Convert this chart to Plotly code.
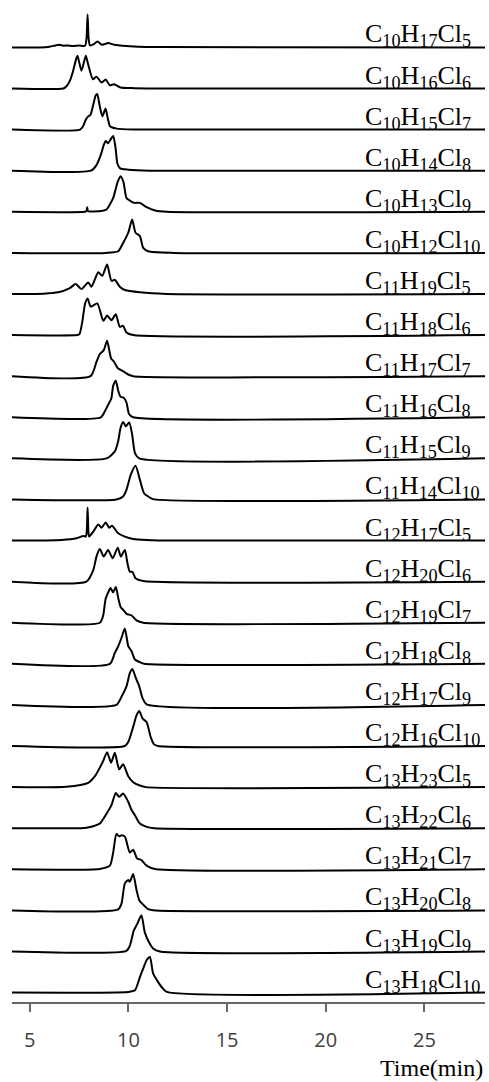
import plotly.graph_objects as go

formulas = [
    "C<sub>10</sub>H<sub>17</sub>Cl<sub>5</sub>",
    "C<sub>10</sub>H<sub>16</sub>Cl<sub>6</sub>",
    "C<sub>10</sub>H<sub>15</sub>Cl<sub>7</sub>",
    "C<sub>10</sub>H<sub>14</sub>Cl<sub>8</sub>",
    "C<sub>10</sub>H<sub>13</sub>Cl<sub>9</sub>",
    "C<sub>10</sub>H<sub>12</sub>Cl<sub>10</sub>",
    "C<sub>11</sub>H<sub>19</sub>Cl<sub>5</sub>",
    "C<sub>11</sub>H<sub>18</sub>Cl<sub>6</sub>",
    "C<sub>11</sub>H<sub>17</sub>Cl<sub>7</sub>",
    "C<sub>11</sub>H<sub>16</sub>Cl<sub>8</sub>",
    "C<sub>11</sub>H<sub>15</sub>Cl<sub>9</sub>",
    "C<sub>11</sub>H<sub>14</sub>Cl<sub>10</sub>",
    "C<sub>12</sub>H<sub>17</sub>Cl<sub>5</sub>",
    "C<sub>12</sub>H<sub>20</sub>Cl<sub>6</sub>",
    "C<sub>12</sub>H<sub>19</sub>Cl<sub>7</sub>",
    "C<sub>12</sub>H<sub>18</sub>Cl<sub>8</sub>",
    "C<sub>12</sub>H<sub>17</sub>Cl<sub>9</sub>",
    "C<sub>12</sub>H<sub>16</sub>Cl<sub>10</sub>",
    "C<sub>13</sub>H<sub>23</sub>Cl<sub>5</sub>",
    "C<sub>13</sub>H<sub>22</sub>Cl<sub>6</sub>",
    "C<sub>13</sub>H<sub>21</sub>Cl<sub>7</sub>",
    "C<sub>13</sub>H<sub>20</sub>Cl<sub>8</sub>",
    "C<sub>13</sub>H<sub>19</sub>Cl<sub>9</sub>",
    "C<sub>13</sub>H<sub>18</sub>Cl<sub>10</sub>",
]

# retention times (min) of points
rt_points = [
    [4.1, 5.5, 6.0, 6.3, 6.5, 6.7, 6.9, 7.2, 7.5, 7.8, 7.88, 7.93, 7.98, 8.05, 8.25, 8.43, 8.65, 8.8, 8.97, 9.3, 9.7, 10.5, 11.5, 28.07],
    [4.1, 6.7, 6.85, 7.03, 7.2, 7.35, 7.42, 7.62, 7.84, 7.95, 8.2, 8.38, 8.64, 8.85, 9.05, 9.28, 9.6, 10.3, 11.4, 28.07],
    [4.1, 7.55, 7.7, 7.84, 7.96, 8.08, 8.22, 8.34, 8.42, 8.55, 8.68, 8.84, 8.95, 9.07, 9.4, 10.26, 28.07],
    [4.1, 8.1, 8.38, 8.63, 8.75, 8.85, 8.97, 9.1, 9.23, 9.35, 9.44, 9.58, 10.0, 11.1, 28.07],
    [4.1, 7.8, 7.87, 7.91, 7.95, 8.1, 8.7, 8.89, 9.23, 9.45, 9.6, 9.75, 9.9, 10.07, 10.3, 10.58, 10.92, 11.35, 11.95, 28.07],
    [4.1, 8.85, 9.48, 9.73, 9.99, 10.19, 10.36, 10.58, 10.75, 11.0, 12.3, 28.07],
    [4.1, 5.7, 6.44, 7.03, 7.33, 7.62, 7.96, 8.13, 8.47, 8.67, 8.92, 9.14, 9.31, 9.56, 9.82, 10.58, 11.93, 28.07],
    [4.1, 7.4, 7.52, 7.67, 7.8, 7.93, 8.09, 8.42, 8.73, 8.92, 9.14, 9.36, 9.56, 9.73, 9.9, 10.24, 28.07],
    [4.1, 8.08, 8.38, 8.55, 8.75, 8.92, 9.12, 9.28, 9.48, 9.73, 9.99, 10.24, 28.07],
    [4.1, 8.6, 8.82, 8.99, 9.13, 9.23, 9.36, 9.48, 9.6, 9.75, 9.9, 10.03, 10.24, 28.07],
    [4.1, 8.89, 9.31, 9.48, 9.6, 9.73, 9.87, 10.04, 10.19, 10.33, 10.55, 28.07],
    [4.1, 9.39, 9.73, 9.9, 10.12, 10.36, 10.58, 10.79, 11.0, 11.25, 28.07],
    [4.1, 6.61, 7.37, 7.71, 7.84, 7.89, 7.93, 7.97, 8.01, 8.22, 8.47, 8.64, 8.85, 9.02, 9.17, 9.48, 9.82, 10.24, 10.92, 12.3, 28.07],
    [4.1, 7.87, 8.22, 8.38, 8.55, 8.75, 8.97, 9.2, 9.46, 9.61, 9.82, 9.95, 10.07, 10.2, 10.36, 10.75, 28.07],
    [4.1, 8.55, 8.72, 8.85, 9.1, 9.22, 9.36, 9.49, 9.61, 9.77, 9.9, 10.16, 10.41, 10.75, 28.07],
    [4.1, 9.06, 9.31, 9.48, 9.65, 9.82, 9.99, 10.16, 10.33, 10.58, 10.8, 28.07],
    [4.1, 9.39, 9.65, 9.9, 10.07, 10.2, 10.38, 10.55, 10.72, 10.92, 28.07],
    [4.1, 9.82, 9.99, 10.24, 10.41, 10.55, 10.72, 10.92, 11.13, 11.3, 11.5, 28.07],
    [4.1, 6.86, 7.96, 8.3, 8.55, 8.72, 8.92, 9.12, 9.31, 9.53, 9.73, 9.99, 10.24, 10.58, 10.9, 28.07],
    [4.1, 7.79, 8.22, 8.55, 8.89, 9.14, 9.36, 9.53, 9.73, 9.99, 10.16, 10.33, 10.58, 10.92, 11.3, 28.07],
    [4.1, 8.55, 9.06, 9.23, 9.39, 9.53, 9.65, 9.82, 10.07, 10.24, 10.44, 10.66, 10.92, 11.35, 28.07],
    [4.1, 9.48, 9.65, 9.82, 9.99, 10.07, 10.24, 10.41, 10.55, 10.72, 11.0, 11.4, 28.07],
    [4.1, 9.9, 10.07, 10.27, 10.44, 10.66, 10.83, 11.05, 11.25, 11.6, 28.07],
    [4.1, 9.99, 10.33, 10.58, 10.75, 10.92, 11.09, 11.25, 11.45, 11.68, 11.94, 28.07],
]

# relative intensities at those points
intensities = [
    [0, 0, 0.02, 0.06, 0.08, 0.05, 0.06, 0.04, 0.06, 0.05, 0.3, 1.0, 0.3, 0.06, 0.1, 0.18, 0.08, 0.1, 0.13, 0.08, 0.05, 0.02, 0.01, 0],
    [0, 0, 0.06, 0.23, 0.54, 0.89, 0.99, 0.54, 0.99, 0.75, 0.28, 0.36, 0.18, 0.27, 0.1, 0.13, 0.03, 0.01, 0, 0],
    [0, 0, 0.1, 0.3, 0.4, 0.45, 0.76, 1.03, 1.08, 0.7, 0.4, 0.64, 0.35, 0.1, 0.03, 0, 0],
    [0, 0, 0.17, 0.53, 0.78, 0.9, 0.83, 0.95, 1.05, 0.68, 0.22, 0.07, 0.03, 0, 0],
    [0, 0, 0.02, 0.14, 0.02, 0.01, 0.03, 0.07, 0.42, 0.9, 1.08, 0.9, 0.42, 0.34, 0.27, 0.27, 0.14, 0.04, 0, 0],
    [0, 0, 0.05, 0.3, 0.61, 1.01, 0.61, 0.51, 0.15, 0.05, 0, 0],
    [0, 0.01, 0.05, 0.18, 0.3, 0.15, 0.35, 0.22, 0.66, 0.55, 0.89, 0.4, 0.43, 0.22, 0.12, 0.05, 0, 0],
    [0, 0, 0.03, 0.43, 0.94, 1.11, 0.86, 0.96, 0.43, 0.59, 0.45, 0.63, 0.25, 0.28, 0.08, 0, 0],
    [0, 0, 0.43, 0.67, 0.79, 1.07, 0.54, 0.43, 0.23, 0.15, 0.05, 0, 0],
    [0, 0, 0.2, 0.4, 0.56, 0.96, 1.11, 0.81, 0.62, 0.6, 0.45, 0.1, 0, 0],
    [0, 0, 0.21, 0.52, 0.92, 1.1, 0.97, 1.09, 0.72, 0.16, 0, 0],
    [0, 0, 0.09, 0.29, 0.75, 1.02, 0.6, 0.19, 0.09, 0.01, 0],
    [0, 0.02, 0.07, 0.14, 0.12, 0.3, 1.0, 0.3, 0.12, 0.27, 0.49, 0.39, 0.55, 0.39, 0.45, 0.22, 0.12, 0.05, 0.02, 0, 0],
    [0, 0, 0.35, 0.76, 0.99, 0.76, 0.96, 0.71, 1.03, 0.76, 0.96, 0.56, 0.3, 0.3, 0.1, 0.02, 0],
    [0, 0, 0.22, 0.73, 1.05, 0.92, 1.08, 0.73, 0.47, 0.37, 0.27, 0.22, 0.07, 0, 0],
    [0, 0, 0.33, 0.53, 0.79, 1.07, 0.54, 0.38, 0.13, 0.05, 0, 0],
    [0, 0, 0.25, 0.56, 0.96, 1.09, 0.81, 0.56, 0.2, 0.02, 0],
    [0, 0, 0.12, 0.58, 0.93, 1.06, 0.83, 0.73, 0.27, 0.05, 0, 0],
    [0, 0.01, 0.13, 0.33, 0.59, 0.79, 1.06, 0.74, 1.04, 0.54, 0.69, 0.33, 0.15, 0.05, 0, 0],
    [0, 0.01, 0.06, 0.14, 0.44, 0.7, 1.07, 0.95, 1.05, 0.8, 0.55, 0.39, 0.14, 0.04, 0, 0],
    [0, 0.01, 0.11, 0.52, 1.07, 1.0, 1.03, 0.99, 0.51, 0.59, 0.33, 0.28, 0.11, 0.01, 0],
    [0, 0.03, 0.21, 0.82, 0.92, 0.87, 1.1, 0.62, 0.31, 0.19, 0.04, 0, 0],
    [0, 0.02, 0.17, 0.63, 0.83, 1.1, 0.58, 0.27, 0.09, 0, 0],
    [0, 0.02, 0.07, 0.47, 0.73, 0.98, 1.08, 0.58, 0.37, 0.17, 0.02, 0],
]

x_ticks = [5, 10, 15, 20, 25]
x_title = "Time(min)"

n = len(formulas)
step = 1.245

fig = go.Figure()
for i in range(n):
    off = (n - 1 - i) * step
    fig.add_trace(go.Scatter(
        x=rt_points[i],
        y=[v + off for v in intensities[i]],
        mode="lines",
        line=dict(color="black", width=2, shape="spline", smoothing=0.6),
        showlegend=False,
        hoverinfo="skip",
    ))
    fig.add_annotation(
        x=0.742, xref="paper", xanchor="left",
        y=off, yref="y", yanchor="bottom",
        text=formulas[i], showarrow=False,
        font=dict(family="Liberation Serif", size=26, color="black"),
        yshift=-6,
    )

fig.add_annotation(
    x=1.0, xref="paper", xanchor="right",
    y=-0.285, yref="y", yanchor="middle",
    text=x_title, showarrow=False,
    font=dict(family="Liberation Serif", size=24, color="black"),
    yshift=-66,
)

fig.update_layout(
    width=489, height=1082,
    margin=dict(l=12, r=4, t=5, b=80),
    plot_bgcolor="white", paper_bgcolor="white",
    xaxis=dict(
        range=[4.1, 28.07], tickvals=x_ticks, ticks="outside", ticklen=8,
        tickcolor="#666666", tickwidth=1.5, showline=True, linecolor="#666666",
        linewidth=1.5, showgrid=False, zeroline=False,
        tickfont=dict(family="Open Sans", size=20, color="#404040"),
        ticklabelstandoff=11,
    ),
    yaxis=dict(range=[-0.285, 29.92], visible=False, showgrid=False, zeroline=False),
)

fig.write_html("out.html", config={"displayModeBar": False},
               post_script="document.body.style.margin='0px';")
